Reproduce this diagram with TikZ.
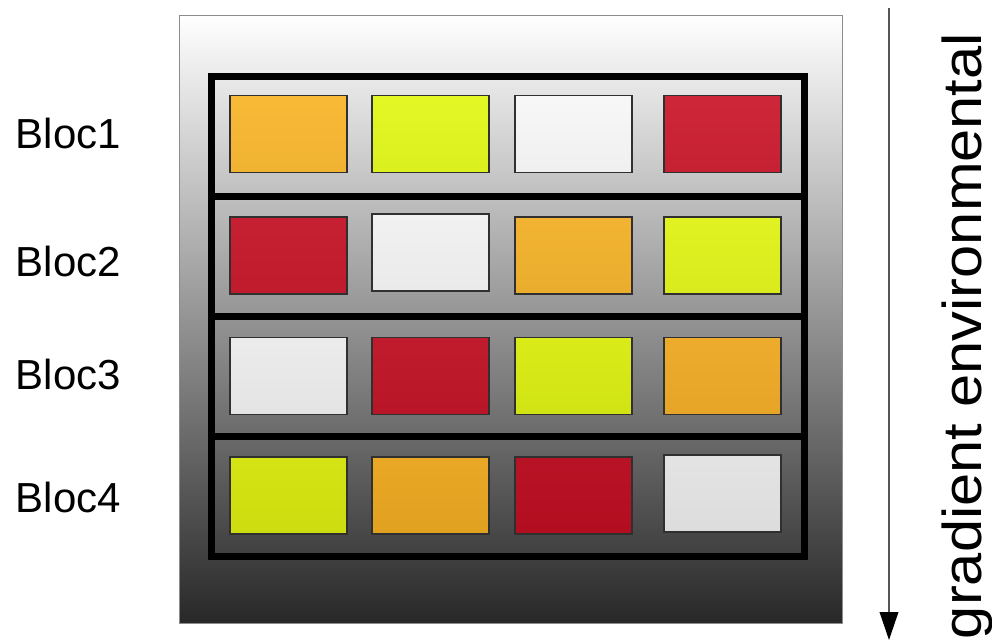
\documentclass[tikz,border=0pt]{standalone}
\usepackage{fontspec}
\setmainfont{Liberation Sans}
\usetikzlibrary{arrows.meta,positioning}
\definecolor{frameline}{HTML}{8C8C8C}
\definecolor{shadetop}{HTML}{FFFFFF}
\definecolor{shadebot}{HTML}{282828}
\definecolor{plotline}{HTML}{303030}
\definecolor{axisline}{HTML}{555555}
% plot colours, darker towards the bottom
\definecolor{orangeA}{HTML}{F8B833}
\definecolor{limeA}{HTML}{E2F720}
\definecolor{whiteA}{HTML}{F7F7F7}
\definecolor{redA}{HTML}{CC2234}
\definecolor{redB}{HTML}{C51C2E}
\definecolor{whiteB}{HTML}{F1F1F1}
\definecolor{orangeB}{HTML}{F2B22E}
\definecolor{limeB}{HTML}{E0F21E}
\definecolor{whiteC}{HTML}{EBEBEB}
\definecolor{redC}{HTML}{BE1729}
\definecolor{limeC}{HTML}{D8EB14}
\definecolor{orangeC}{HTML}{EDAA28}
\definecolor{limeD}{HTML}{D3E30F}
\definecolor{orangeD}{HTML}{E8A621}
\definecolor{redD}{HTML}{B70E21}
\definecolor{whiteD}{HTML}{E3E3E3}

\begin{document}
\begin{tikzpicture}[x=0.75pt,y=-0.75pt,
  bloc/.style={draw=black,line width=5.25pt,minimum width=444.75pt,minimum height=90pt,inner sep=0pt},
  plot/.style={draw=plotline,line width=0.8pt,minimum width=87.75pt,minimum height=57.75pt,inner sep=0pt},
  blabel/.style={anchor=base west,font=\fontsize{31.5}{36}\selectfont}]
  \useasboundingbox (0,0) rectangle (992,640);

  % field with the environmental gradient
  \shade[top color=shadetop,bottom color=shadebot,draw=frameline,line width=0.75pt]
    (179,15) rectangle (842,623);

  % blocks
  \foreach \n/\y in {1/136.5,2/256.5,3/376.5,4/496.5} {
    \node[bloc] (bloc\n) at (508,\y) {};
  }
  \node[blabel] (lab1) at (11,148) {Bloc1};
  \node[blabel] (lab2) at (11,276) {Bloc2};
  \node[blabel] (lab3) at (11,389) {Bloc3};
  \node[blabel] (lab4) at (11,512) {Bloc4};

  % plots
  \foreach \n/\x/\y/\col in {
      11/288.5/134/orangeA, 12/430.5/134/limeA, 13/573.5/134/whiteA, 14/722.5/134/redA,
      21/288.5/255.5/redB, 22/430.5/252.5/whiteB, 23/573.5/255.5/orangeB, 24/722.5/255.5/limeB,
      31/288.5/376/whiteC, 32/430.5/376/redC, 33/573.5/376/limeC, 34/722.5/376/orangeC,
      41/288.5/495.5/limeD, 42/430.5/495.5/orangeD, 43/573.5/495.5/redD, 44/722.5/493.5/whiteD} {
    \node[plot,top color=\col!98!white,bottom color=\col!97!black] (p\n) at (\x,\y) {};
  }

  % gradient arrow
  \coordinate (gtop) at (889,8);
  \coordinate (gbot) at (889,640);
  \draw[axisline,line width=1.1pt,-{Triangle[length=21pt,width=14pt,black]}] (gtop) -- (gbot);
  \node[rotate=90,anchor=base,font=\fontsize{41}{46}\selectfont] (glab) at (981,336)
    {\scalebox{1.09}[1]{gradient environmental}};
\end{tikzpicture}
\end{document}
